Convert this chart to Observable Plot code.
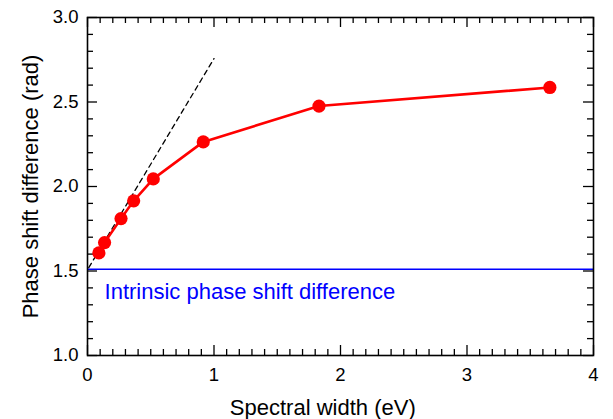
<!DOCTYPE html>
<html>
<head>
<meta charset="utf-8">
<script src="https://cdn.jsdelivr.net/npm/d3@7"></script>
<script src="https://cdn.jsdelivr.net/npm/@observablehq/plot@0.6"></script>
<style>
  html, body { margin: 0; padding: 0; background: #fff; }
  #chart svg { font-family: "Liberation Sans", Arial, Helvetica, sans-serif; }
</style>
</head>
<body>
<div id="chart"></div>
<script>
// Measured data (spectral width in eV vs phase shift difference in rad)
const widths = [0.09, 0.135, 0.265, 0.365, 0.52, 0.915, 1.83, 3.655];
const phases = [1.607, 1.668, 1.81, 1.915, 2.045, 2.264, 2.476, 2.586];
// Dashed linear trend near zero width
const trendX = [0.01, 1.0];
const trendY = [1.52, 2.757];
// Intrinsic phase shift difference
const intrinsic = 1.51;
const intrinsicLabel = "Intrinsic phase shift difference";
// Axis titles
const xTitle = "Spectral width (eV)";
const yTitle = "Phase shift difference (rad)";
// Ticks
const xMajor = [0, 1, 2, 3, 4];
const xMinor = d3.range(0, 40).map(i => i / 10).filter(v => Math.abs(v - Math.round(v)) > 1e-6);
const yMajor = [1.0, 1.5, 2.0, 2.5, 3.0];
const yMinor = d3.range(10, 30).map(i => i / 10).filter(v => Math.abs(v * 2 - Math.round(v * 2)) > 1e-6);

const W = 613, H = 419;
const mL = 87, mR = 20, mT = 17, mB = 64;
const pw = W - mL - mR, ph = H - mT - mB;
const majorLen = 10, minorLen = 6;

const pts = widths.map((x, i) => ({x, y: phases[i]}));
const trend = trendX.map((x, i) => ({x, y: trendY[i]}));

const chart = Plot.plot({
  width: W, height: H,
  marginLeft: mL, marginRight: mR, marginTop: mT, marginBottom: mB,
  style: {fontSize: "18px", fontFamily: "'Liberation Sans', Arial, sans-serif", color: "#000", background: "#fff", overflow: "visible"},
  x: {domain: [0, 4]},
  y: {domain: [1.0, 3.0]},
  marks: [
    Plot.axisX(xMajor, {tickSize: 0, tickPadding: 12, fontSize: 18.5, tickFormat: d3.format("d"), label: null}),
    Plot.axisY(yMajor, {tickSize: 0, tickPadding: 9, fontSize: 18.5, tickFormat: d3.format(".1f"), label: null}),
    // inward ticks on all four sides
    Plot.tickX(xMajor, {x: d => d, insetTop: ph - majorLen, stroke: "#000", strokeWidth: 1.3}),
    Plot.tickX(xMinor, {x: d => d, insetTop: ph - minorLen, stroke: "#000", strokeWidth: 1.3}),
    Plot.tickX(xMajor, {x: d => d, insetBottom: ph - majorLen, stroke: "#000", strokeWidth: 1.3}),
    Plot.tickX(xMinor, {x: d => d, insetBottom: ph - minorLen, stroke: "#000", strokeWidth: 1.3}),
    Plot.tickY(yMajor, {y: d => d, insetRight: pw - majorLen, stroke: "#000", strokeWidth: 1.3}),
    Plot.tickY(yMinor, {y: d => d, insetRight: pw - minorLen, stroke: "#000", strokeWidth: 1.3}),
    Plot.tickY(yMajor, {y: d => d, insetLeft: pw - majorLen, stroke: "#000", strokeWidth: 1.3}),
    Plot.tickY(yMinor, {y: d => d, insetLeft: pw - minorLen, stroke: "#000", strokeWidth: 1.3}),
    Plot.ruleY([intrinsic], {stroke: "#0000ff", strokeWidth: 1.6}),
    Plot.text([intrinsicLabel], {x: 0.135, y: 1.375, text: d => d, textAnchor: "start", lineAnchor: "middle", fill: "#0000ff", fontSize: 22}),
    Plot.line(trend, {x: "x", y: "y", stroke: "#000", strokeWidth: 1.3, strokeDasharray: "5,4"}),
    Plot.line(pts, {x: "x", y: "y", stroke: "#ff0000", strokeWidth: 2.6}),
    Plot.dot(pts, {x: "x", y: "y", r: 6.6, fill: "#ff0000", stroke: "none"}),
    Plot.frame({stroke: "#000", strokeWidth: 1.6}),
    Plot.text([xTitle], {x: 1.86, frameAnchor: "bottom", dy: 52, text: d => d, fontSize: 22, textAnchor: "middle", lineAnchor: "middle", fill: "#000"}),
    Plot.text([yTitle], {frameAnchor: "left", dx: -57, rotate: -90, text: d => d, fontSize: 22, textAnchor: "middle", lineAnchor: "middle", fill: "#000"})
  ]
});
document.getElementById("chart").appendChild(chart);
</script>
</body>
</html>
